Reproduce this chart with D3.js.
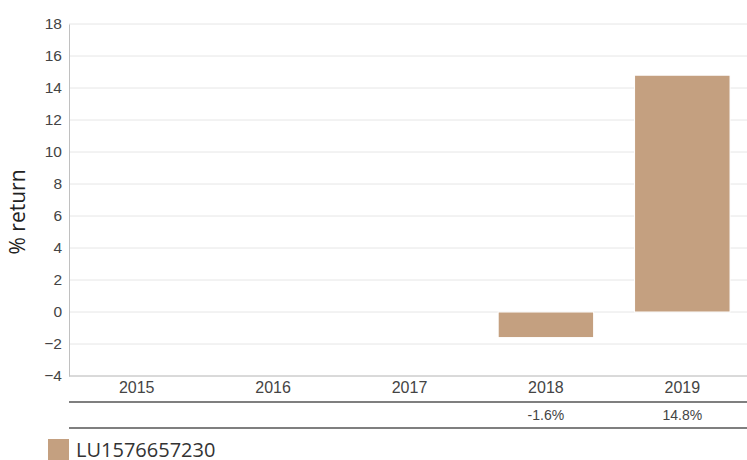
<!DOCTYPE html>
<html>
<head>
<meta charset="utf-8">
<script src="https://cdnjs.cloudflare.com/ajax/libs/d3/7.8.5/d3.min.js"></script>
<style>
  body { margin: 0; background: #fff; }
  svg { display: block; }
</style>
</head>
<body>
<svg id="chart"></svg>
<script>
// data
let years = ["2015", "2016", "2017", "2018", "2019"];
let returns = [null, null, null, -1.6, 14.8];
let tableLabels = ["", "", "", "-1.6%", "14.8%"];
let yTicks = [-4, -2, 0, 2, 4, 6, 8, 10, 12, 14, 16, 18];
let seriesName = "LU1576657230";

let width = 747, height = 460;
let margin = {top: 24, left: 69, right: 1, bottom: 84};
let barColor = "#c4a080";

let svg = d3.select("#chart")
  .attr("width", width)
  .attr("height", height);

// band range runs a little past the right edge, like the original
let x = d3.scaleBand()
  .domain(years)
  .range([68.5, 750.5])
  .paddingInner(0.3)
  .paddingOuter(0.15);

let y = d3.scaleLinear()
  .domain([-4, 18])
  .range([height - margin.bottom, margin.top]);

// grid lines
svg.append("g")
  .selectAll("line")
  .data(yTicks)
  .enter()
  .append("line")
  .attr("x1", margin.left)
  .attr("x2", width)
  .attr("y1", d => y(d))
  .attr("y2", d => y(d))
  .attr("stroke", "#e6e6e6")
  .attr("stroke-width", 1)

// y axis
let yAxis = svg.append("g")
  .attr("transform", "translate(" + margin.left + ",0)")
  .call(d3.axisLeft(y).tickValues(yTicks).tickSize(0).tickPadding(7))
yAxis.select(".domain").attr("stroke", "#c0c0c0")
yAxis.selectAll("text")
  .attr("font-family", "Liberation Sans, Arial, sans-serif")
  .attr("font-size", 15.5)
  .attr("fill", "#444")

// bars
svg.append("g")
  .selectAll("rect")
  .data(years.map((d, i) => ({year: d, v: returns[i]})).filter(d => d.v !== null))
  .enter()
  .append("rect")
  .attr("x", d => x(d.year))
  .attr("width", x.bandwidth())
  .attr("y", d => y(Math.max(0, d.v)))
  .attr("height", d => Math.abs(y(d.v) - y(0)))
  .attr("fill", barColor)
  .attr("stroke", "#fff")
  .attr("stroke-width", 1)

// x axis
let xAxis = svg.append("g")
  .attr("transform", "translate(0," + y(-4) + ")")
  .call(d3.axisBottom(x).tickSize(0).tickPadding(6))
xAxis.select(".domain").attr("stroke", "#c0c0c0").attr("d", "M" + margin.left + ",0H" + width)
xAxis.selectAll("text")
  .attr("font-family", "Liberation Sans, Arial, sans-serif")
  .attr("font-size", 16)
  .attr("fill", "#444")

// table under chart
let tableTop = 402, tableBottom = 428;
[tableTop, tableBottom].forEach(function(ly) {
  svg.append("line")
    .attr("x1", margin.left)
    .attr("x2", width)
    .attr("y1", ly)
    .attr("y2", ly)
    .attr("stroke", "#555")
    .attr("stroke-width", 1.5)
})

svg.append("g")
  .selectAll("text")
  .data(years)
  .enter()
  .append("text")
  .attr("x", d => x(d) + x.bandwidth() / 2)
  .attr("y", (tableTop + tableBottom) / 2 + 5)
  .attr("text-anchor", "middle")
  .attr("font-family", "Liberation Sans, Arial, sans-serif")
  .attr("font-size", 14)
  .attr("fill", "#444")
  .text((d, i) => tableLabels[i])

// y title
svg.append("text")
  .attr("transform", "translate(25,212) rotate(-90)")
  .attr("text-anchor", "middle")
  .attr("font-family", "Open Sans, sans-serif")
  .attr("font-size", 21)
  .attr("fill", "#222")
  .text("% return")

// legend
svg.append("rect")
  .attr("x", 48)
  .attr("y", 439)
  .attr("width", 21)
  .attr("height", 21)
  .attr("fill", barColor)

svg.append("text")
  .attr("x", 76)
  .attr("y", 457)
  .attr("font-family", "Open Sans, sans-serif")
  .attr("font-size", 20)
  .attr("fill", "#333")
  .text(seriesName)
</script>
</body>
</html>
